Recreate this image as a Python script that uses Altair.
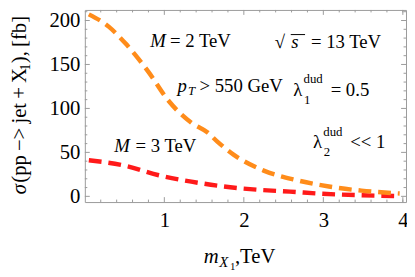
import altair as alt
import pandas as pd

# ---- data ----
orange_x = [0.05, 0.30, 0.51, 0.80, 1.05, 1.34, 1.54, 1.67, 1.87, 2.25, 2.66, 3.07, 3.48, 3.96]
orange_y = [207, 193, 174, 141.6, 109, 83.7, 72.8, 62, 47.5, 29.3, 18.5, 11.2, 6.5, 3.3]
red_x = [0.05, 0.51, 0.93, 1.34, 1.75, 2.16, 2.58, 2.99, 3.41, 3.96]
red_y = [41, 34.8, 24, 16.7, 11.2, 7.6, 5.4, 2.9, 1.4, 0.3]

x_labels = [1, 2, 3, 4]
y_labels = [0, 50, 100, 150, 200]
x_minor = [0.2, 0.4, 0.6, 0.8, 1.2, 1.4, 1.6, 1.8, 2.2, 2.4, 2.6, 2.8, 3.2, 3.4, 3.6, 3.8, 4.0]
y_minor = [10, 20, 30, 40, 60, 70, 80, 90, 110, 120, 130, 140, 160, 170, 180, 190, 210]

# annotation pieces inside the plot: text, x, y (data units), font size, italic
ann_text = ["M", "= 2 TeV", "\u221a", "s", "= 13 TeV",
            "p", "T", "> 550 GeV",
            "\u03bb", "dud", "1", "= 0.5",
            "\u03bb", "dud", "2", "<< 1",
            "M", "= 3 TeV"]
ann_x = [0.823, 1.071, 2.390, 2.597, 2.844,
         1.165, 1.297, 1.442,
         2.621, 2.751, 2.756, 3.092,
         2.869, 2.999, 3.004, 3.339,
         0.369, 0.637]
ann_y = [169.6, 169.6, 168.8, 168.8, 168.8,
         118.8, 115.2, 118.8,
         114.5, 129.0, 105.4, 114.5,
         54.7, 69.2, 45.7, 54.7,
         50.0, 50.0]
ann_size = [19, 19, 19, 19, 19,
            19, 13, 19,
            19, 13, 13, 19,
            19, 13, 13, 19,
            19, 19]
ann_italic = [True, False, False, True, False,
              True, True, False,
              False, False, False, False,
              False, False, False, False,
              True, False]

# overline of the square root
sqrt_bar_x = [2.59, 2.77]
sqrt_bar_y = 184

# axis title pieces (pixel positions relative to the plot area)
xt_text = ["m", "X", "1", ",TeV"]
xt_px = [120.7, 136.3, 147.3, 152.3]
xt_py = [257, 261.3, 263.7, 257]
xt_size = [21, 15, 11, 21]
xt_italic = [True, True, False, False]

yt_text = ["\u03c3", "(pp\u2009\u2212>\u2009jet\u2009+\u2009X", "1", "),\u2009[fb]"]
yt_px = [-60, -60, -56, -60]
yt_py = [187, 175.4, 61.5, 54]
yt_size = [21, 21, 14, 21]
yt_italic = [True, False, False, False]

W, H = 326, 195
FONT = "Liberation Serif, Times New Roman, Times, DejaVu Serif, serif"
FRAME = "#9a9a9a"

xscale = alt.Scale(domain=[0, 4.04], nice=False, zero=False)
yscale = alt.Scale(domain=[-6.5, 212], nice=False, zero=False)

orange_df = pd.DataFrame({"x": orange_x, "y": orange_y})
red_df = pd.DataFrame({"x": red_x, "y": red_y})

xaxis = alt.Axis(values=x_labels, title=None, grid=False, ticks=False, domain=False,
                 labelFont=FONT, labelFontSize=21, labelColor="black", labelPadding=8)
yaxis = alt.Axis(values=y_labels, title=None, grid=False, ticks=False, domain=False,
                 labelFont=FONT, labelFontSize=21, labelColor="black", labelPadding=5)

X = lambda f: alt.X(f, scale=xscale, axis=xaxis)
Y = lambda f: alt.Y(f, scale=yscale, axis=yaxis)

red_line = alt.Chart(red_df).mark_line(
    color="#ff1a1a", strokeWidth=4.5, strokeDash=[13, 7], interpolate="monotone"
).encode(x=X("x:Q"), y=Y("y:Q"))

orange_line = alt.Chart(orange_df).mark_line(
    color="#ff8c1a", strokeWidth=4.5, strokeDash=[13, 7], interpolate="monotone"
).encode(x=X("x:Q"), y=Y("y:Q"))

def xticks(vals, length):
    df = pd.DataFrame({"v": vals})
    bot = alt.Chart(df).mark_rule(color=FRAME, strokeWidth=1).encode(
        x=X("v:Q"), y=alt.value(H), y2=alt.value(H - length))
    top = alt.Chart(df).mark_rule(color=FRAME, strokeWidth=1).encode(
        x=X("v:Q"), y=alt.value(0), y2=alt.value(length))
    return [bot, top]

def yticks(vals, length):
    df = pd.DataFrame({"v": vals})
    left = alt.Chart(df).mark_rule(color=FRAME, strokeWidth=1).encode(
        y=Y("v:Q"), x=alt.value(0), x2=alt.value(length))
    right = alt.Chart(df).mark_rule(color=FRAME, strokeWidth=1).encode(
        y=Y("v:Q"), x=alt.value(W), x2=alt.value(W - length))
    return [left, right]

ticks = xticks(x_labels, 5) + xticks(x_minor, 2.5) + yticks(y_labels, 5) + yticks(y_minor, 2.5)

ann_df = pd.DataFrame({"t": ann_text, "x": ann_x, "y": ann_y, "s": ann_size, "i": ann_italic})

def ann_layer(italic):
    d = ann_df[ann_df["i"] == italic]
    return alt.Chart(d).mark_text(
        align="left", baseline="alphabetic", font=FONT, color="black",
        fontStyle="italic" if italic else "normal"
    ).encode(x=X("x:Q"), y=Y("y:Q"),
             text="t:N", size=alt.Size("s:Q", scale=None, legend=None))

bar_df = pd.DataFrame({"x": [sqrt_bar_x[0]], "x2": [sqrt_bar_x[1]], "y": [sqrt_bar_y]})
sqrt_bar = alt.Chart(bar_df).mark_rule(color="black", strokeWidth=1).encode(
    x=X("x:Q"), x2="x2:Q", y=Y("y:Q"))

xt_df = pd.DataFrame({"t": xt_text, "px": xt_px, "py": xt_py, "s": xt_size, "i": xt_italic})
yt_df = pd.DataFrame({"t": yt_text, "px": yt_px, "py": yt_py, "s": yt_size, "i": yt_italic})

def title_layer(df, italic, angle):
    d = df[df["i"] == italic]
    return alt.Chart(d).mark_text(
        align="left", baseline="alphabetic", font=FONT, color="black", angle=angle,
        fontStyle="italic" if italic else "normal"
    ).encode(x=alt.X("px:Q", scale=None, axis=None), y=alt.Y("py:Q", scale=None, axis=None),
             text="t:N", size=alt.Size("s:Q", scale=None, legend=None))

layers = ([red_line, orange_line] + ticks +
          [ann_layer(True), ann_layer(False), sqrt_bar,
           title_layer(xt_df, True, 0), title_layer(xt_df, False, 0),
           title_layer(yt_df, True, 270), title_layer(yt_df, False, 270)])

chart = alt.layer(*layers).properties(
    width=W, height=H,
    autosize=alt.AutoSizeParams(type="none"),
    padding={"left": 78, "top": 0, "right": 1, "bottom": 69},
).configure_view(stroke=FRAME, strokeWidth=1)

chart.save("out.html", embed_options={"renderer": "svg", "actions": False})
